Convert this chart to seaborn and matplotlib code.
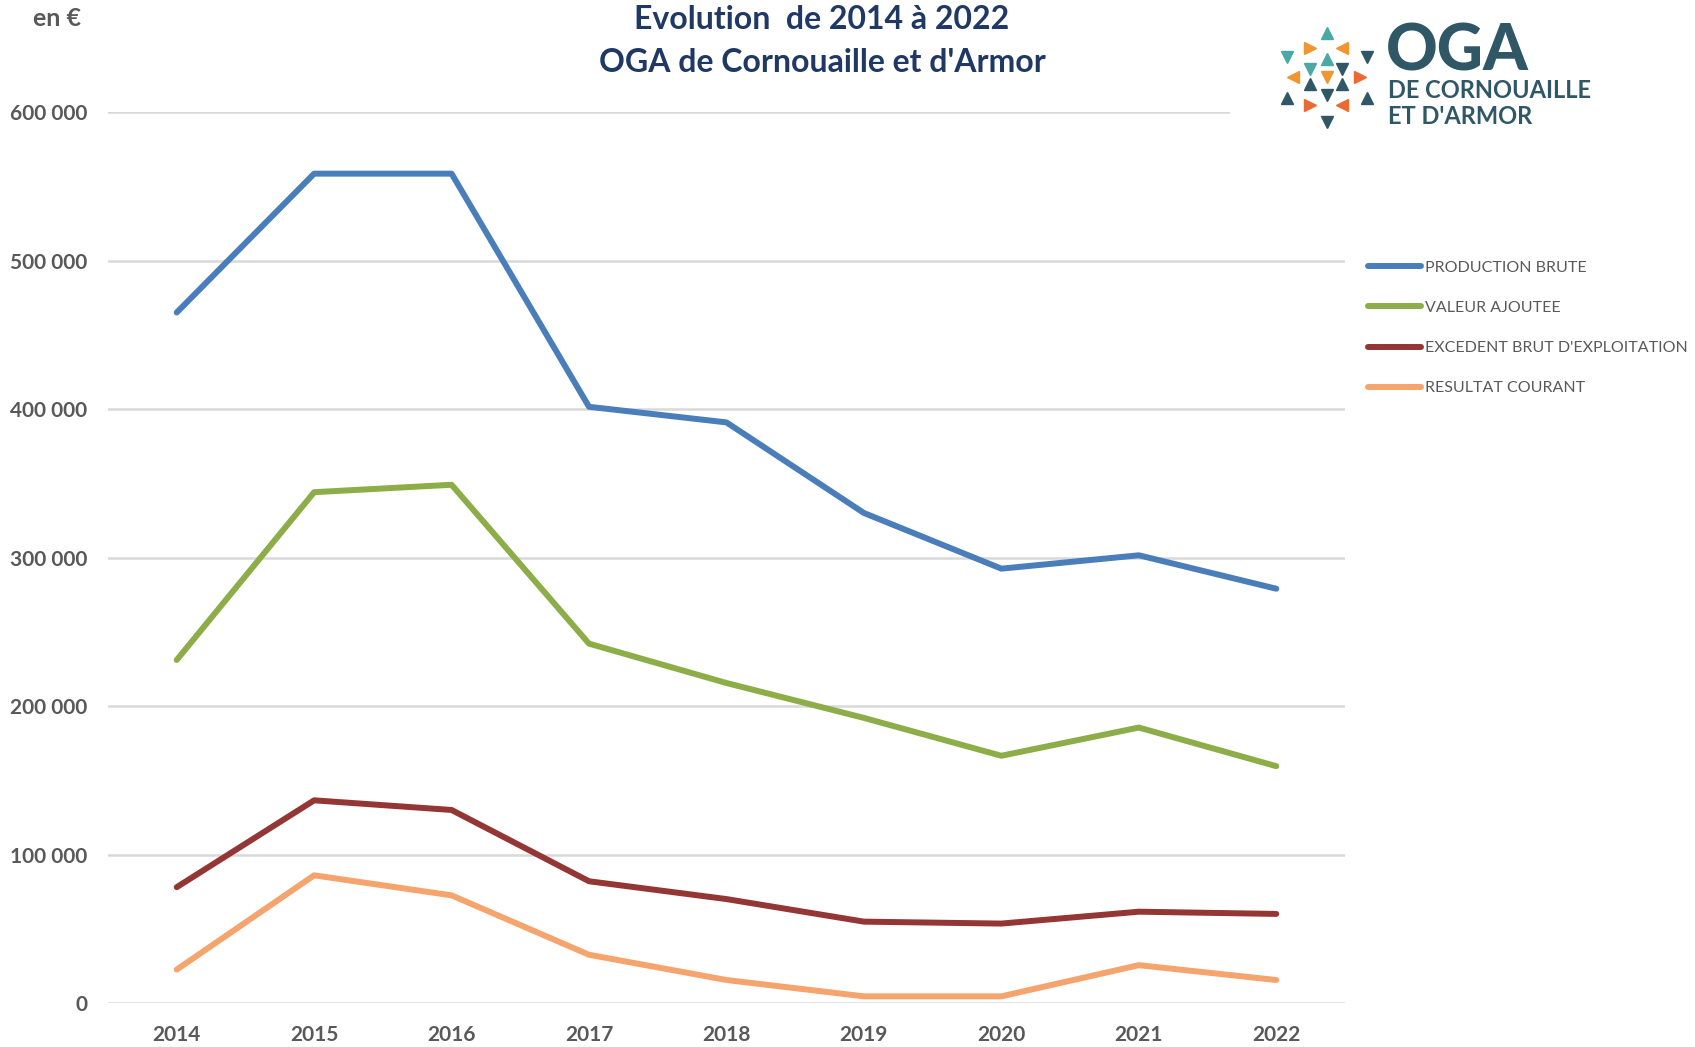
import pandas as pd
import numpy as np
import matplotlib
matplotlib.use("Agg")
import matplotlib.pyplot as plt
from matplotlib.patches import Rectangle
import seaborn as sns

# ----------------------------------------
# Data (en €)
# ----------------------------------------
years = ["2014", "2015", "2016", "2017", "2018", "2019", "2020", "2021", "2022"]
production_brute = [465000, 558500, 558500, 401500, 391000, 330000, 292500, 301500, 279000]
valeur_ajoutee = [231000, 344000, 349000, 242000, 215500, 192000, 166500, 185500, 159500]
ebe = [78000, 136500, 130000, 82000, 70000, 54800, 53500, 61500, 60000]
resultat_courant = [22500, 86000, 72500, 32500, 15500, 4500, 4500, 25500, 15500]

series_names = ["PRODUCTION BRUTE", "VALEUR AJOUTEE", "EXCEDENT BRUT D'EXPLOITATION", "RESULTAT COURANT"]
series_colors = ["#4a7ebb", "#8cad48", "#933634", "#f5a46e"]
y_ticks = [0, 100000, 200000, 300000, 400000, 500000, 600000]

df = pd.DataFrame({
    "year": years * 4,
    "value": production_brute + valeur_ajoutee + ebe + resultat_courant,
    "serie": np.repeat(series_names, len(years)),
})

sns.set_theme(style="white")
plt.rcParams["font.family"] = ["Lato", "DejaVu Sans"]

fig = plt.figure(figsize=(16.95, 10.47), dpi=100)
ax = fig.add_axes([0.0637, 0.042, 0.7298, 0.851])

sns.lineplot(data=df, x="year", y="value", hue="serie", palette=dict(zip(series_names, series_colors)),
             linewidth=4.3, ax=ax, legend=False, solid_capstyle="round", solid_joinstyle="round", zorder=3)

# Axes styling
ax.set_xlim(-0.5, len(years) - 0.5)
ax.set_ylim(0, 600000)
ax.set_yticks(y_ticks)
ax.set_yticklabels([f"{v:,}".replace(",", " ") for v in y_ticks])
ax.set_xlabel("")
ax.set_ylabel("")
ax.yaxis.grid(True, color="#d9d9d9", linewidth=1.8)
ax.xaxis.grid(False)
for s in ax.spines.values():
    s.set_visible(False)
ax.tick_params(axis="both", length=0, labelsize=15, labelcolor="#595959")
ax.tick_params(axis="y", pad=15)
ax.tick_params(axis="x", pad=16)
for lbl in ax.get_xticklabels() + ax.get_yticklabels():
    lbl.set_fontweight("bold")

# Title and unit
fig.text(0.485, 0.981, "Evolution  de 2014 à 2022", ha="center", va="center",
         fontsize=23, fontweight="bold", color="#1f3864")
fig.text(0.485, 0.940, "OGA de Cornouaille et d'Armor", ha="center", va="center",
         fontsize=23, fontweight="bold", color="#1f3864")
fig.text(0.0335, 0.982, "en €", ha="center", va="center", fontsize=18, fontweight="bold", color="#595959")

# Legend
handles = [plt.Line2D([], [], color=c, linewidth=4.3, solid_capstyle="round") for c in series_colors]
fig.legend(handles, series_names, loc="upper left", bbox_to_anchor=(0.8035, 0.757), frameon=False,
           fontsize=11.5, labelcolor="#595959", handlelength=3.3, handletextpad=0.25,
           labelspacing=1.62, borderaxespad=0)

# Logo (white box covering grid end, triangles and text)
fig.patches.append(Rectangle((1230 / 1695, 1 - 135 / 1047), 380 / 1695, 125 / 1047,
                             transform=fig.transFigure, facecolor="white", edgecolor="none", zorder=2))
teal, orange, red, dark = "#4aa9a4", "#ef9632", "#ea6a33", "#2f5766"
tri = [
    (1327, 33, "^", teal), (1310, 48, ">", orange), (1342, 48, "<", orange),
    (1287, 57, "v", teal), (1367, 57, "v", dark), (1327, 59, "^", teal),
    (1310, 69, "v", teal), (1342, 69, "v", dark), (1293, 77, "<", orange),
    (1327, 77, "v", orange), (1360, 77, ">", red), (1310, 84, "^", dark),
    (1342, 84, "^", dark), (1327, 95, "v", dark), (1287, 98, "^", dark),
    (1367, 98, "^", dark), (1310, 105, ">", red), (1342, 105, "<", red),
    (1327, 122, "v", dark),
]
for x, y, m, c in tri:
    fig.add_artist(plt.Line2D([x / 1695], [1 - y / 1047], marker=m, color=c, markersize=8.5,
                              linestyle="none", transform=fig.transFigure, zorder=3))
fig.text(1386 / 1695, 1 - 52 / 1047, "OGA", ha="left", va="center", fontsize=46, fontweight="black",
         color=dark, zorder=3)
fig.text(1388 / 1695, 1 - 91 / 1047, "DE CORNOUAILLE", ha="left", va="center", fontsize=17,
         fontweight="bold", color=dark, zorder=3)
fig.text(1388 / 1695, 1 - 116 / 1047, "ET D'ARMOR", ha="left", va="center", fontsize=17,
         fontweight="bold", color=dark, zorder=3)

plt.savefig("out.png", dpi=100)
